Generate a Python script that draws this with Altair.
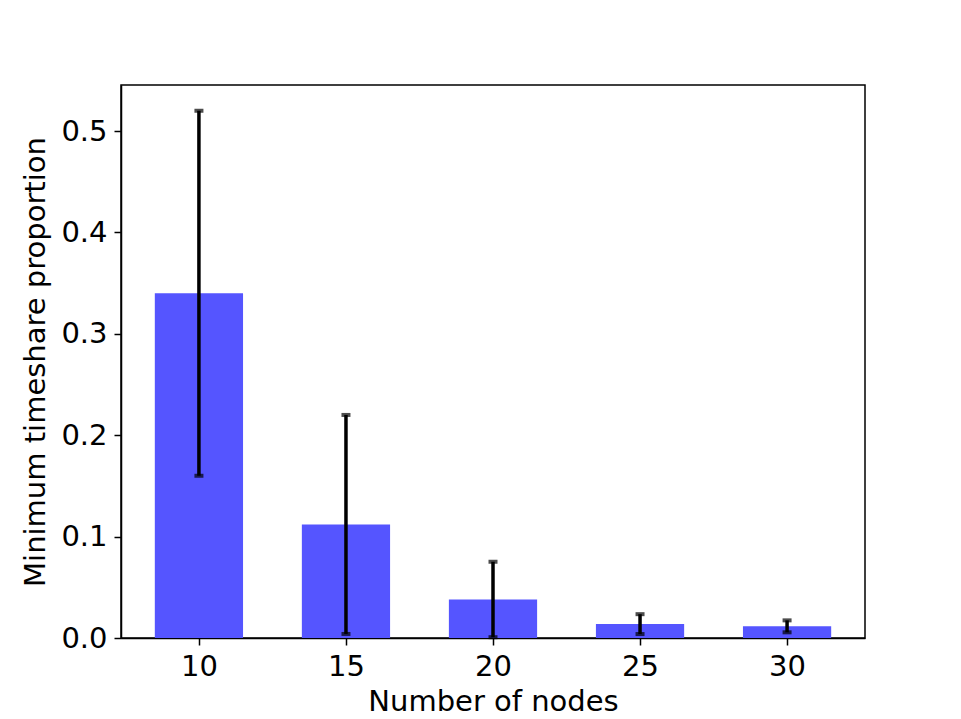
import altair as alt
import pandas as pd

nodes = [10, 15, 20, 25, 30]
means = [0.340, 0.112, 0.038, 0.0137, 0.0115]
errs = [0.180, 0.108, 0.0372, 0.0098, 0.0059]

df = pd.DataFrame({"nodes": nodes, "mean": means, "err": errs})

FONT = "DejaVu Sans"
FS = 29

xscale = alt.Scale(domain=[7.35, 32.65], nice=False, zero=False)
yscale = alt.Scale(domain=[0, 0.5454], nice=False)

base = alt.Chart(df).transform_calculate(
    x0="datum.nodes - 1.5",
    x1="datum.nodes + 1.5",
    lo="datum.mean - datum.err",
    hi="datum.mean + datum.err",
)

xaxis = alt.Axis(values=nodes, title="Number of nodes", format="d", labelFontSize=FS,
                 titleFontSize=FS, labelFont=FONT, titleFont=FONT, grid=False,
                 tickSize=7, labelPadding=7, titlePadding=6, domainColor="black",
                 tickColor="black", labelColor="black", titleColor="black",
                 domainWidth=1.5, tickWidth=1.5, titleFontWeight="normal")
yaxis = alt.Axis(values=[0, 0.1, 0.2, 0.3, 0.4, 0.5], format=".1f",
                 title="Minimum timeshare proportion", labelFontSize=FS,
                 titleFontSize=FS, labelFont=FONT, titleFont=FONT, grid=False,
                 tickSize=7, labelPadding=7, titlePadding=10, domainColor="black",
                 tickColor="black", labelColor="black", titleColor="black",
                 domainWidth=1.5, tickWidth=1.5, titleFontWeight="normal")

bars = base.mark_rect(color="#5555ff").encode(
    x=alt.X("x0:Q", scale=xscale, axis=xaxis),
    x2="x1:Q",
    y=alt.Y("mean:Q", scale=yscale, axis=yaxis),
    y2=alt.datum(0),
)

rules = base.mark_rule(color="black", strokeWidth=3.5).encode(
    x=alt.X("nodes:Q", scale=xscale),
    y=alt.Y("lo:Q", scale=yscale),
    y2="hi:Q",
)

caps_hi = base.mark_tick(color="black", orient="horizontal", size=9, thickness=4).encode(
    x=alt.X("nodes:Q", scale=xscale),
    y=alt.Y("hi:Q", scale=yscale),
)
caps_lo = base.mark_tick(color="black", orient="horizontal", size=9, thickness=4).encode(
    x=alt.X("nodes:Q", scale=xscale),
    y=alt.Y("lo:Q", scale=yscale),
)

chart = alt.layer(bars, rules, caps_hi, caps_lo).properties(
    width=744, height=553,
    autosize=alt.AutoSizeParams(type="none"),
    padding={"left": 121, "top": 85, "right": 96, "bottom": 81},
    background="white",
).configure_view(stroke="black", strokeWidth=1.5, strokeOpacity=1)

chart.save("out.html", embed_options={"renderer": "svg", "actions": False})
